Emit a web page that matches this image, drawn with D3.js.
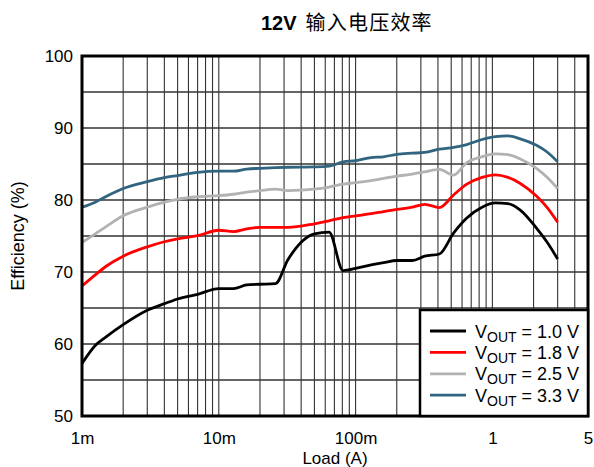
<!DOCTYPE html>
<html>
<head>
<meta charset="utf-8">
<script src="https://cdn.jsdelivr.net/npm/d3@7"></script>
<style>
  html, body { margin: 0; padding: 0; background: #fff; }
  svg { display: block; font-family: "Liberation Sans", Arial, sans-serif; }
</style>
</head>
<body>
<svg id="chart" width="594" height="467"></svg>
<script>
// ---- data ----
const loads = [0.001, 0.00125, 0.0015, 0.002, 0.003, 0.004, 0.005, 0.007, 0.01, 0.0128, 0.016, 0.02, 0.026, 0.032, 0.05, 0.064, 0.081, 0.1, 0.13, 0.16, 0.2, 0.26, 0.32, 0.41, 0.52, 0.65, 0.84, 1.05, 1.3, 1.6, 2.1, 2.5, 3];
const eff10 = [57.3, 59.8, 61.0, 62.7, 64.7, 65.6, 66.25, 66.9, 67.7, 67.7, 68.2, 68.3, 68.4, 71.7, 75.3, 75.55, 70.2, 70.5, 71.0, 71.3, 71.6, 71.6, 72.2, 72.5, 75.4, 77.5, 79.0, 79.6, 79.5, 78.6, 76.1, 74.2, 71.8];
const eff18 = [68.05, 69.6, 70.8, 72.2, 73.5, 74.2, 74.6, 75.05, 75.8, 75.6, 76.0, 76.2, 76.2, 76.2, 76.7, 77.1, 77.55, 77.8, 78.1, 78.4, 78.7, 79.0, 79.4, 78.95, 80.7, 82.2, 83.15, 83.5, 83.15, 82.3, 80.55, 79.0, 76.9];
const eff25 = [74.1, 75.3, 76.3, 77.8, 79.0, 79.7, 80.1, 80.45, 80.6, 80.8, 81.1, 81.3, 81.5, 81.3, 81.5, 81.8, 82.2, 82.4, 82.7, 83.0, 83.3, 83.6, 83.9, 84.25, 83.45, 85.2, 86.0, 86.4, 86.3, 85.7, 84.4, 83.2, 81.6];
const eff33 = [79.0, 79.7, 80.5, 81.6, 82.55, 83.1, 83.4, 83.85, 84.0, 84.0, 84.3, 84.4, 84.5, 84.55, 84.6, 84.7, 85.3, 85.45, 85.9, 86.0, 86.35, 86.5, 86.6, 87.05, 87.3, 87.7, 88.4, 88.8, 88.9, 88.5, 87.6, 86.7, 85.3];
const seriesNames = ["1.0 V", "1.8 V", "2.5 V", "3.3 V"];
const xTickValues = [0.001, 0.01, 0.1, 1, 5];
const xTickLabels = ["1m", "10m", "100m", "1", "5"];
const yTickValues = [50, 60, 70, 80, 90, 100];
const titleMain = "12V";
const titleCJK = "输入电压效率";
const xTitle = "Load (A)";
const yTitle = "Efficiency (%)";

// ---- layout ----
const svg = d3.select("#chart");
const L = 82, R = 588, T = 56, B = 416;
const colors = ["#000000", "#ff0000", "#b2b2b2", "#30647f"];
const series = [eff10, eff18, eff25, eff33];

const x = d3.scaleLog().domain([0.001, 5]).range([L, R]);
const y = d3.scaleLinear().domain([50, 100]).range([B, T]);

// grid
const vGrid = [];
[0.001, 0.01, 0.1].forEach(d => { for (let k = 1; k <= 9; k++) vGrid.push(k * d); });
[1, 2, 3, 4, 5].forEach(v => vGrid.push(v));
const hGrid = d3.range(50, 101, 5);

const g = svg.append("g");
g.selectAll("line.v").data(vGrid).enter().append("line")
  .attr("x1", d => x(d)).attr("x2", d => x(d))
  .attr("y1", T).attr("y2", B)
  .attr("stroke", "#333").attr("stroke-width", 1.1);
g.selectAll("line.h").data(hGrid).enter().append("line")
  .attr("x1", L).attr("x2", R)
  .attr("y1", d => y(d)).attr("y2", d => y(d))
  .attr("stroke", "#333").attr("stroke-width", 1.3);

// curves
const line = d3.line()
  .x(d => x(d[0])).y(d => y(d[1]))
  .curve(d3.curveMonotoneX);
series.forEach((s, i) => {
  svg.append("path")
    .datum(loads.map((l, j) => [l, s[j]]))
    .attr("d", line)
    .attr("fill", "none")
    .attr("stroke", colors[i])
    .attr("stroke-width", 2.8)
    .attr("stroke-linejoin", "round");
});

// frame
svg.append("rect").attr("x", L).attr("y", T).attr("width", R - L).attr("height", B - T)
  .attr("fill", "none").attr("stroke", "#000").attr("stroke-width", 3);

// axes
const xAxis = d3.axisBottom(x).tickValues(xTickValues)
  .tickFormat((d, i) => xTickLabels[i]).tickSize(0).tickPadding(16);
const gx = svg.append("g").attr("transform", `translate(0,${B})`).call(xAxis);
gx.select(".domain").remove();
gx.selectAll("text").attr("font-size", 17).attr("fill", "#000")
  .attr("font-family", "Liberation Sans, Arial, sans-serif");

const yAxis = d3.axisLeft(y).tickValues(yTickValues).tickSize(0).tickPadding(9);
const gy = svg.append("g").attr("transform", `translate(${L},0)`).call(yAxis);
gy.select(".domain").remove();
gy.selectAll("text").attr("font-size", 17).attr("fill", "#000")
  .attr("font-family", "Liberation Sans, Arial, sans-serif");

// titles
const tt = svg.append("text").attr("x", 261).attr("y", 29.5).attr("fill", "#000");
tt.append("tspan").text(titleMain).attr("font-weight", "bold").attr("font-size", 20)
  .attr("font-family", "Liberation Sans, Arial, sans-serif");
tt.append("tspan").text(titleCJK).attr("dx", 9).attr("font-size", 20)
  .attr("letter-spacing", 1.2)
  .attr("font-family", "Noto Sans CJK SC, sans-serif");

svg.append("text").attr("x", (L + R) / 2).attr("y", 464).attr("text-anchor", "middle")
  .attr("font-size", 17).text(xTitle);
svg.append("text").attr("transform", `translate(24,${(T + B) / 2}) rotate(-90)`)
  .attr("text-anchor", "middle").attr("font-size", 18).text(yTitle);

// legend
const lg = svg.append("g");
lg.append("rect").attr("x", 420).attr("y", 310).attr("width", R - 420).attr("height", B - 310)
  .attr("fill", "#fff").attr("stroke", "#000").attr("stroke-width", 2.5);
seriesNames.forEach((n, i) => {
  const cy = 331 + i * 21.4;
  lg.append("line").attr("x1", 430).attr("x2", 466).attr("y1", cy).attr("y2", cy)
    .attr("stroke", colors[i]).attr("stroke-width", 2.8);
  const t = lg.append("text").attr("x", 475).attr("y", cy + 6.5).attr("font-size", 18).attr("fill", "#000");
  t.append("tspan").text("V");
  t.append("tspan").text("OUT").attr("font-size", 14).attr("dy", 4);
  t.append("tspan").text(" = " + n).attr("dy", -4);
});
</script>
</body>
</html>
